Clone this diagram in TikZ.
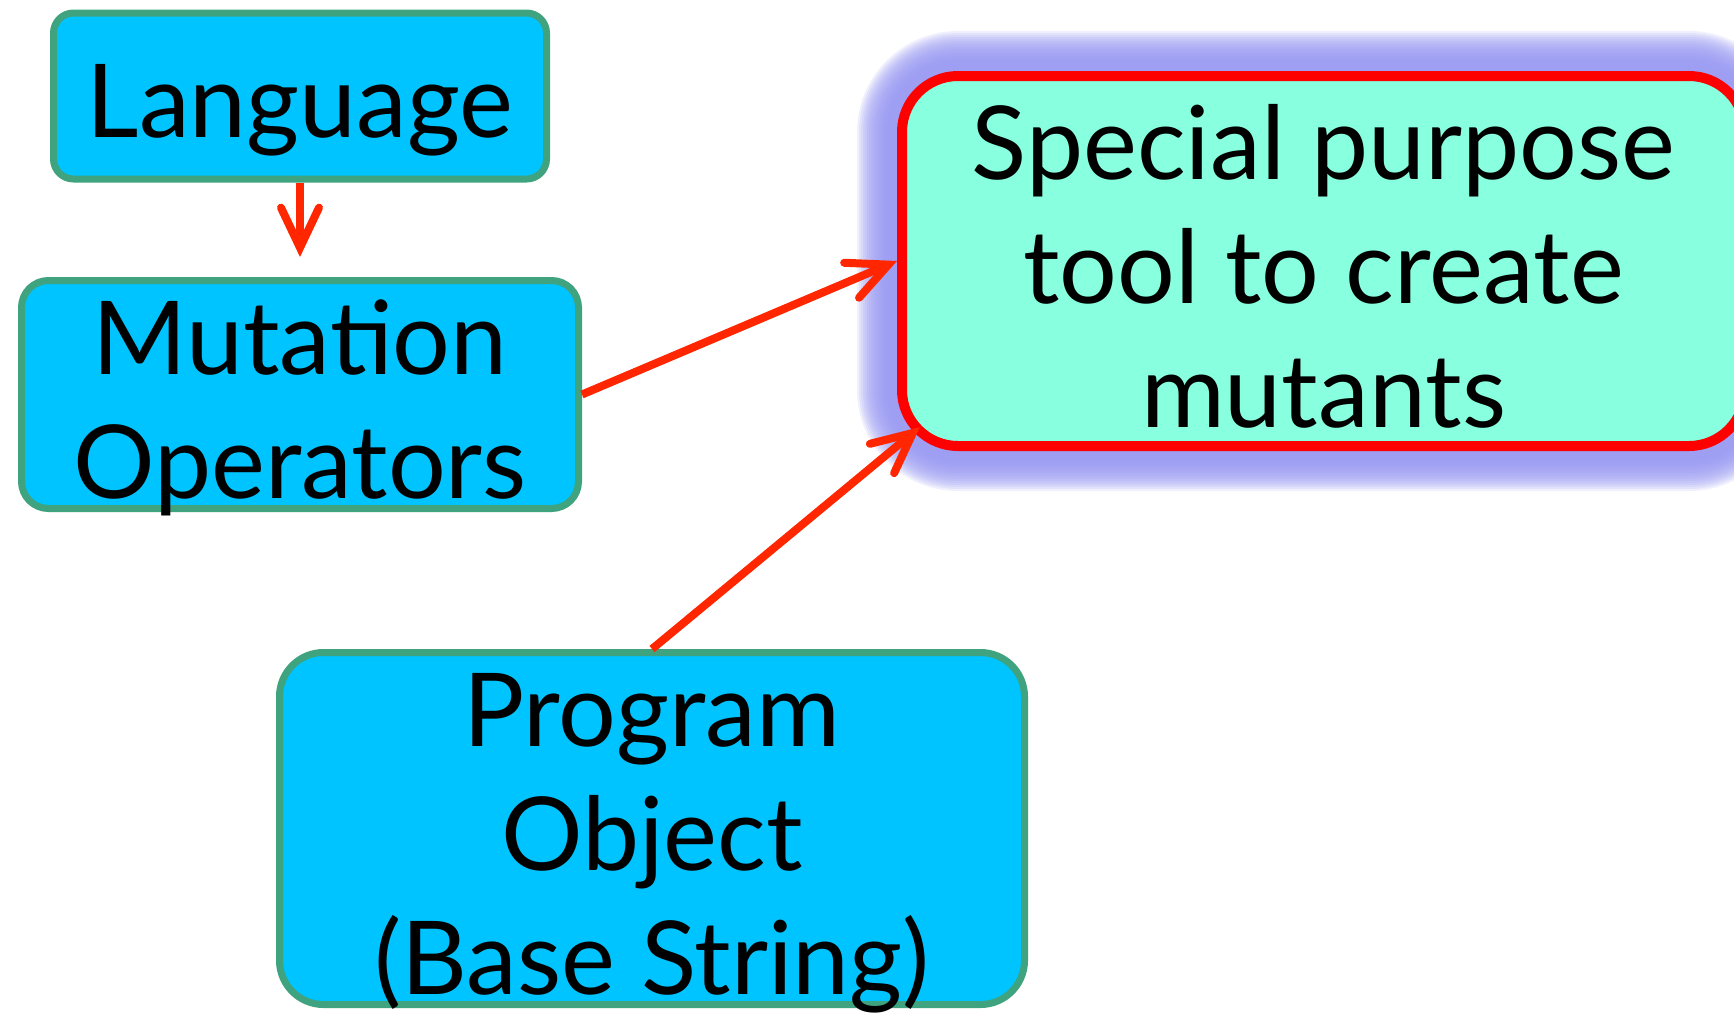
\documentclass[tikz,border=0pt]{standalone}
\usepackage{fontspec}
\setmainfont{Lato}
\usetikzlibrary{arrows.meta,backgrounds}

\definecolor{boxblue}{RGB}{0,196,255}
\definecolor{boxedge}{RGB}{62,163,126}
\definecolor{toolfill}{RGB}{136,255,222}
\definecolor{tooledge}{RGB}{255,0,0}
\definecolor{linkred}{RGB}{255,38,0}
\definecolor{halo}{RGB}{150,150,242}

\begin{document}
\begin{tikzpicture}[x=1pt,y=-1pt,
  label font/.style={font=\fontsize{102}{124}\selectfont},
  bluebox/.style={draw=boxedge, line width=7pt, fill=boxblue,
    inner sep=0pt, align=center, label font, text=black, text depth=0pt},
  toolbox/.style={draw=tooledge, line width=10pt, fill=toolfill,
    inner sep=0pt, align=center, label font, text=black, text depth=0pt},
  link/.style={draw=linkred, line width=8pt,
    -{Straight Barb[length=40pt,width=38pt,line cap=round,line join=miter]}}]
\useasboundingbox (0,0) rectangle (1734,1013);
\clip (0,0) rectangle (1734,1013);

% source boxes (text height runs from the top of the first line's capitals
% to the baseline of the last line)
\node[bluebox, minimum width=493pt, minimum height=166pt, rounded corners=20pt,
      text height=83pt] (lang) at (300,96) {Language};
\node[bluebox, minimum width=557pt, minimum height=228pt, rounded corners=27pt,
      text height=207pt] (mut) at (300,394.5) {Mutation\\Operators};
\node[bluebox, minimum width=745pt, minimum height=352pt, rounded corners=44pt,
      text height=331pt] (prog) at (652,828.5) {Program\\Object\\(Base String)};

% the tool, with its soft halo behind it
\node[toolbox, minimum width=843pt, minimum height=370pt, rounded corners=56pt,
      text height=333pt] (tool) at (1323.5,261) {Special purpose\\tool to create\\mutants};
\begin{scope}[on background layer]
  \foreach \e [evaluate=\e as \r using 61+\e] in {10,12,...,40}
    \fill[halo, fill opacity=0.15, rounded corners=\r pt]
      ([shift={(-\e,-\e)}]tool.north west) rectangle ([shift={(\e,\e)}]tool.south east);
\end{scope}

% connectors
\coordinate (toolcorner) at ([shift={(23,-24)}]tool.south west);
\draw[link, shorten >=20pt] (lang.south) -- (mut.north);
\draw[link] (mut.east) -- (tool.west);
\draw[link] (prog.north) -- (toolcorner);
\end{tikzpicture}
\end{document}
